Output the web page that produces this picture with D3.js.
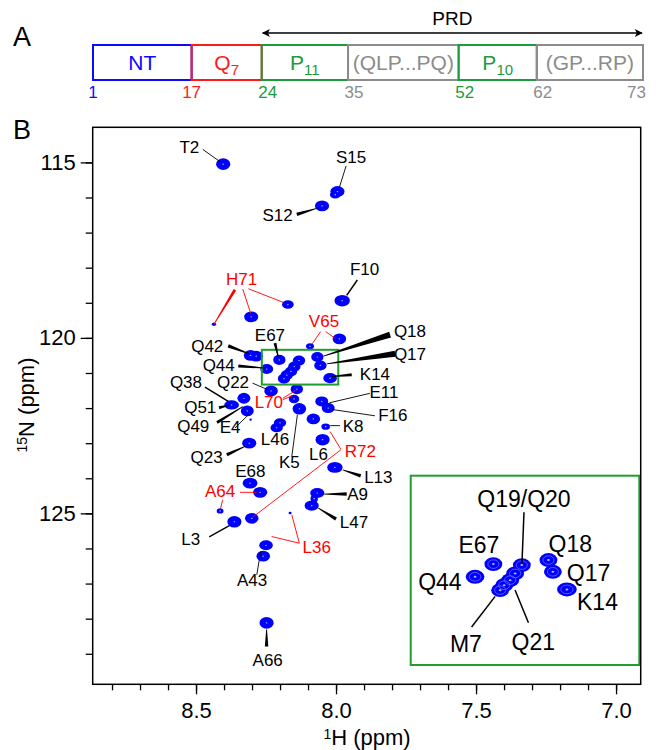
<!DOCTYPE html>
<html>
<head>
<meta charset="utf-8">
<script src="https://cdn.jsdelivr.net/npm/d3@7"></script>
<style>
body { margin: 0; background: #fff; }
text { font-family: "Liberation Sans", Arial, Helvetica, sans-serif; }
</style>
</head>
<body>
<svg width="658" height="750"></svg>
<script>
// ---- panel A : domain map ----
const segNames = ["NT", "Q", "P", "(QLP...PQ)", "P", "(GP...RP)"];
const segSubs = ["", "7", "11", "", "10", ""];
const segKinds = ["nt", "q", "p", "link", "p", "link"];
const segUnits = [98.8, 70.2, 86.5, 110.8, 78.3, 106.4];   // schematic widths
const segEdges = [1, 17, 24, 35, 52, 62, 73];

// ---- panel B : HSQC peaks [1H ppm, 15N ppm, half width 1H, half width 15N] ----
const peaks = [
  [8.403, 115.05, 0.023, 0.15],
  [7.995, 115.83, 0.023, 0.14],
  [8.003, 115.92, 0.017, 0.10],
  [8.050, 116.24, 0.023, 0.14],
  [7.978, 118.94, 0.025, 0.15],
  [8.172, 119.05, 0.019, 0.11],
  [8.303, 119.40, 0.023, 0.14],
  [8.436, 119.61, 0.007, 0.045],
  [8.093, 120.24, 0.013, 0.08],
  [7.988, 120.03, 0.022, 0.14],
  [8.305, 120.50, 0.022, 0.14],
  [8.285, 120.52, 0.022, 0.14],
  [8.2024, 120.627, 0.020, 0.13],
  [8.2475, 120.888, 0.021, 0.13],
  [8.1323, 120.647, 0.020, 0.13],
  [8.1488, 120.818, 0.020, 0.13],
  [8.161, 120.956, 0.020, 0.13],
  [8.1758, 121.059, 0.020, 0.13],
  [8.1857, 121.162, 0.020, 0.13],
  [8.0667, 120.544, 0.020, 0.13],
  [8.0558, 120.785, 0.020, 0.13],
  [8.0213, 121.147, 0.022, 0.13],
  [8.232, 121.51, 0.022, 0.14],
  [8.140, 121.46, 0.020, 0.13],
  [8.150, 121.74, 0.017, 0.11],
  [8.373, 121.91, 0.024, 0.12],
  [8.329, 121.72, 0.021, 0.14],
  [8.317, 122.08, 0.021, 0.14],
  [8.305, 122.33, 0.004, 0.03],
  [8.131, 122.02, 0.022, 0.15],
  [8.051, 121.81, 0.021, 0.13],
  [8.028, 122.00, 0.021, 0.13],
  [8.081, 122.31, 0.022, 0.14],
  [8.037, 122.53, 0.014, 0.08],
  [8.200, 122.42, 0.020, 0.12],
  [8.212, 122.56, 0.020, 0.12],
  [8.048, 122.90, 0.023, 0.15],
  [8.310, 123.00, 0.023, 0.14],
  [8.004, 123.69, 0.025, 0.14],
  [8.307, 124.14, 0.024, 0.14],
  [8.271, 124.40, 0.023, 0.14],
  [8.414, 124.93, 0.011, 0.07],
  [8.067, 124.42, 0.023, 0.13],
  [8.078, 124.58, 0.012, 0.10],
  [8.087, 124.78, 0.023, 0.13],
  [8.363, 125.24, 0.023, 0.15],
  [8.301, 125.14, 0.022, 0.14],
  [8.164, 124.99, 0.005, 0.035],
  [8.250, 125.91, 0.022, 0.13],
  [8.260, 126.22, 0.022, 0.14],
  [8.248, 128.12, 0.023, 0.15]
];

// assignments: [name, label 1H, label 15N, leader lines [fromH, fromN, toH, toN]]
const labels = [
  ["T2", 8.524, 114.72, [[8.476, 114.63, 8.414, 114.98]]],
  ["S15", 7.946, 115.01, [[7.964, 115.10, 7.988, 115.71]]],
  ["S12", 8.209, 116.66, [[8.140, 116.48, 8.069, 116.31]]],
  ["F10", 7.898, 118.21, [[7.924, 118.35, 7.962, 118.79]]],
  ["H71", 8.337, 118.49, [[8.361, 118.63, 8.436, 119.61], [8.333, 118.61, 8.305, 119.30], [8.313, 118.60, 8.188, 118.99]]],
  ["V65", 8.043, 119.68, [[8.055, 119.82, 8.085, 120.17], [8.037, 119.82, 8.004, 120.01]]],
  ["E67", 8.236, 120.08, [[8.218, 120.15, 8.206, 120.56]]],
  ["Q42", 8.460, 120.39, [[8.385, 120.23, 8.307, 120.46]]],
  ["Q44", 8.419, 120.93, [[8.349, 120.80, 8.255, 120.86]]],
  ["Q18", 7.736, 119.97, [[7.807, 119.91, 8.045, 120.52]]],
  ["Q17", 7.736, 120.63, [[7.789, 120.45, 8.033, 120.74]]],
  ["K14", 7.861, 121.19, [[7.944, 121.05, 8.015, 121.10]]],
  ["Q22", 8.368, 121.43, [[8.298, 121.29, 8.248, 121.46]]],
  ["L70", 8.240, 122.00, [[8.190, 121.76, 8.153, 121.64], [8.190, 121.72, 8.140, 121.48]]],
  ["Q38", 8.536, 121.43, [[8.468, 121.40, 8.385, 121.81]]],
  ["Q51", 8.485, 122.13, [[8.418, 121.99, 8.379, 121.91]]],
  ["Q49", 8.510, 122.67, [[8.425, 122.41, 8.333, 121.96]]],
  ["E4", 8.378, 122.71, [[8.361, 122.57, 8.313, 122.19]]],
  ["E11", 7.829, 121.72, [[7.879, 121.58, 8.024, 121.85]]],
  ["F16", 7.797, 122.38, [[7.861, 122.22, 8.014, 122.04]]],
  ["K8", 7.939, 122.67, [[7.986, 122.50, 8.021, 122.50]]],
  ["L46", 8.218, 123.05, []],
  ["K5", 8.167, 123.71, [[8.158, 123.38, 8.138, 122.19]]],
  ["L6", 8.063, 123.47, []],
  ["R72", 7.913, 123.38, [[7.983, 123.17, 8.021, 122.67], [7.983, 123.19, 8.301, 125.13]]],
  ["L13", 7.849, 124.14, [[7.912, 123.93, 7.976, 123.76]]],
  ["Q23", 8.462, 123.57, [[8.390, 123.33, 8.325, 123.09]]],
  ["E68", 8.306, 123.95, []],
  ["A64", 8.414, 124.52, [[8.343, 124.40, 8.283, 124.40], [8.405, 124.61, 8.412, 124.85]]],
  ["A9", 7.923, 124.61, [[7.962, 124.45, 8.043, 124.45]]],
  ["L47", 7.936, 125.42, [[8.000, 125.16, 8.063, 124.85]]],
  ["L3", 8.519, 125.91, [[8.453, 125.67, 8.381, 125.35]]],
  ["L36", 8.069, 126.13, [[8.131, 125.85, 8.158, 125.04], [8.131, 125.85, 8.230, 125.66]]],
  ["A43", 8.300, 127.08, [[8.283, 126.75, 8.269, 126.08]]],
  ["A66", 8.244, 129.36, [[8.248, 128.79, 8.248, 128.31]]]
];
const redNames = ["H71", "V65", "L70", "R72", "A64", "L36"];

// zoomed region (green box) and its labels
const boxH = [8.265, 7.992];
const boxN = [120.34, 121.33];
const insetH = [8.406, 7.843];
const insetN = [118.81, 122.70];
const insetLabels = [
  ["Q19/Q20", 8.127, 119.46, [[8.127, 119.56, 8.132, 120.62]]],
  ["E67", 8.238, 120.39, []],
  ["Q18", 8.013, 120.37, []],
  ["Q44", 8.334, 121.16, []],
  ["Q17", 7.968, 120.98, []],
  ["K14", 7.946, 121.57, []],
  ["M7", 8.270, 122.43, [[8.256, 121.92, 8.198, 121.29]]],
  ["Q21", 8.104, 122.40, [[8.116, 121.83, 8.149, 121.16]]]
];

const xMajor = [8.5, 8.0, 7.5, 7.0];
const xMinor = d3.range(8.8, 6.95, -0.1).map(d => +d.toFixed(1));
const yMajor = [115, 120, 125];
const yMinor = d3.range(115, 130, 1);

// ---- styles ----
const kindColor = {nt: "#0a0aff", q: "#ff1a1a", p: "#1c9a3c", link: "#8c8c8c"};
const green = "#1f9e2c";
const blue = "#0000ff";
const red = "#ff0000";
const wedgeW = {S12: 3.5, E67: 3, Q42: 3.5, Q44: 3, Q18: 6, Q17: 6, K14: 3, Q51: 3, Q49: 3,
                L13: 3.5, Q23: 3.5, A9: 3.5, L47: 3.5, A66: 3.5, H71: 3};
const midW = {F10: 1.5, Q38: 1.5, L3: 1.3};
const grow = 1.1;

const svg = d3.select("svg");

// ---------------- panel A ----------------
svg.append("text").attr("x", 13).attr("y", 46).attr("font-size", 27).text("A");

const cum = [0];
segUnits.forEach(u => cum.push(cum[cum.length - 1] + u));
const xa = d3.scaleLinear().domain([0, cum[cum.length - 1]]).range([93, 643]);
const boxTop = 45, boxH_px = 35;

const segs = svg.append("g");
segNames.forEach((name, i) => {
  const c = kindColor[segKinds[i]];
  segs.append("rect")
    .attr("x", xa(cum[i])).attr("y", boxTop)
    .attr("width", xa(cum[i + 1]) - xa(cum[i])).attr("height", boxH_px)
    .attr("fill", "none").attr("stroke", c).attr("stroke-width", 2);
  const t = segs.append("text")
    .attr("x", (xa(cum[i]) + xa(cum[i + 1])) / 2).attr("y", boxTop + 25)
    .attr("text-anchor", "middle").attr("font-size", 21).attr("fill", c);
  t.append("tspan").text(name);
  if (segSubs[i]) t.append("tspan").attr("font-size", 15).attr("dy", 5).text(segSubs[i]);
});
segEdges.forEach((n, i) => {
  const k = segKinds[Math.min(i, segKinds.length - 1)];
  let anchor = "middle", xx = xa(cum[i]);
  if (i === segEdges.length - 1) { anchor = "end"; xx += 3; }
  else if (i > 1) xx += 6;
  svg.append("text").attr("x", xx).attr("y", 98)
    .attr("text-anchor", anchor).attr("font-size", 17)
    .attr("fill", i === segEdges.length - 1 ? kindColor.link : kindColor[k]).text(n);
});

// PRD arrow
const defs = svg.append("defs");
defs.append("marker").attr("id", "ah").attr("viewBox", "0 0 10 10")
  .attr("refX", 9).attr("refY", 5).attr("markerWidth", 12).attr("markerHeight", 8)
  .attr("markerUnits", "userSpaceOnUse").attr("orient", "auto-start-reverse")
  .append("path").attr("d", "M0,0 L10,5 L0,10 L2.5,5 Z").attr("fill", "#000");
svg.append("line").attr("x1", xa(cum[2]) + 1).attr("x2", xa(cum[6]) - 1)
  .attr("y1", 33).attr("y2", 33).attr("stroke", "#000").attr("stroke-width", 1.5)
  .attr("marker-start", "url(#ah)").attr("marker-end", "url(#ah)");
svg.append("text").attr("x", (xa(cum[2]) + xa(cum[6])) / 2).attr("y", 25)
  .attr("text-anchor", "middle").attr("font-size", 19).text("PRD");

// ---------------- panel B ----------------
svg.append("text").attr("x", 13).attr("y", 139).attr("font-size", 27).text("B");

const x = d3.scaleLinear().domain([8.869, 6.912]).range([92.7, 640.7]);
const y = d3.scaleLinear().domain([114, 129.87]).range([127.3, 684.3]);

function drawPeaks(g, data, xs, ys, rings) {
  const sz = p => {
    const cx = xs(p[0]), cy = ys(p[1]);
    return [cx, cy, Math.abs(xs(p[0] - p[2]) - cx) * grow, Math.abs(ys(p[1] + p[3]) - cy) * grow];
  };
  data.forEach(p => {
    const [cx, cy, rx, ry] = sz(p);
    g.append("ellipse").attr("cx", cx).attr("cy", cy).attr("rx", rx).attr("ry", ry).attr("fill", blue);
  });
  data.forEach(p => {
    const [cx, cy, rx, ry] = sz(p);
    if (rings && rx > 3) {
      g.append("ellipse").attr("cx", cx).attr("cy", cy).attr("rx", rx * 0.62).attr("ry", ry * 0.62)
        .attr("fill", "none").attr("stroke", "#7a7aff").attr("stroke-width", 0.7);
    }
    if (rx > 3) {
      g.append("ellipse").attr("cx", cx).attr("cy", cy).attr("rx", rings ? 1.4 : 0.8).attr("ry", rings ? 1.0 : 0.6)
        .attr("fill", "#fff").attr("opacity", 0.7);
    }
  });
}

function wedge(g, x1, y1, x2, y2, w, col) {
  const dx = x2 - x1, dy = y2 - y1, L = Math.hypot(dx, dy);
  const nx = -dy / L, ny = dx / L, tip = 0.4;
  const pts = [[x1 + nx * w / 2, y1 + ny * w / 2], [x2 + nx * tip, y2 + ny * tip],
               [x2 - nx * tip, y2 - ny * tip], [x1 - nx * w / 2, y1 - ny * w / 2]];
  g.append("path").attr("d", "M" + pts.join("L") + "Z").attr("fill", col);
}

function drawLabels(g, data, xs, ys, size, styled) {
  data.forEach(l => {
    const col = redNames.includes(l[0]) && styled ? red : "#000";
    l[3].forEach((s, i) => {
      const x1 = xs(s[0]), y1 = ys(s[1]), x2 = xs(s[2]), y2 = ys(s[3]);
      if (styled && wedgeW[l[0]] && i === 0) wedge(g, x1, y1, x2, y2, wedgeW[l[0]], col);
      else g.append("line").attr("x1", x1).attr("y1", y1).attr("x2", x2).attr("y2", y2)
        .attr("stroke", col).attr("stroke-width", styled ? (midW[l[0]] || 0.9) : 1.5);
    });
    g.append("text").attr("x", xs(l[1])).attr("y", ys(l[2]))
      .attr("text-anchor", "middle").attr("font-size", size).attr("fill", col).text(l[0]);
  });
}

const plot = svg.append("g");
drawPeaks(plot, peaks, x, y, false);
plot.append("rect")
  .attr("x", x(boxH[0])).attr("y", y(boxN[0]))
  .attr("width", x(boxH[1]) - x(boxH[0])).attr("height", y(boxN[1]) - y(boxN[0]))
  .attr("fill", "none").attr("stroke", green).attr("stroke-width", 2);
drawLabels(plot, labels, x, y, 17, true);

// inset
const ix = d3.scaleLinear().domain(insetH).range([410.7, 639.3]);
const iy = d3.scaleLinear().domain(insetN).range([475.7, 665]);
defs.append("clipPath").attr("id", "insetClip").append("rect")
  .attr("x", 410.7).attr("y", 475.7).attr("width", 228.6).attr("height", 189.3);
const inset = svg.append("g");
inset.append("rect").attr("x", 410.7).attr("y", 475.7).attr("width", 228.6).attr("height", 189.3)
  .attr("fill", "#fff").attr("stroke", green).attr("stroke-width", 2);
const insetPeaks = peaks.filter(p => p[0] <= boxH[0] && p[0] >= boxH[1] && p[1] >= boxN[0] && p[1] <= boxN[1]);
drawPeaks(inset.append("g").attr("clip-path", "url(#insetClip)"), insetPeaks, ix, iy, true);
drawLabels(inset, insetLabels, ix, iy, 23, false);

// frame and axes
svg.append("rect").attr("x", 92.7).attr("y", 127.3).attr("width", 548).attr("height", 557)
  .attr("fill", "none").attr("stroke", "#000").attr("stroke-width", 1.5);

const fmt1 = d3.format(".1f");
const gxMinor = svg.append("g").attr("transform", "translate(0,684.3)")
  .call(d3.axisBottom(x).tickValues(xMinor).tickSize(6).tickFormat(""));
const gx = svg.append("g").attr("transform", "translate(0,684.3)")
  .call(d3.axisBottom(x).tickValues(xMajor).tickSize(10).tickPadding(8).tickFormat(fmt1));
const gyMinor = svg.append("g").attr("transform", "translate(92.7,0)")
  .call(d3.axisLeft(y).tickValues(yMinor).tickSize(7).tickFormat(""));
const gy = svg.append("g").attr("transform", "translate(92.7,0)")
  .call(d3.axisLeft(y).tickValues(yMajor).tickSize(12).tickPadding(5).tickFormat(d3.format("d")));
[gxMinor, gx, gyMinor, gy].forEach(g => {
  g.select(".domain").remove();
  g.selectAll("line").attr("stroke", "#000").attr("stroke-width", 1.3);
  g.selectAll("text").attr("font-size", 22).attr("fill", "#000")
    .attr("font-family", "'Liberation Sans', Arial, sans-serif");
});

const xt = svg.append("text").attr("x", 367).attr("y", 745).attr("text-anchor", "middle").attr("font-size", 22);
xt.append("tspan").attr("font-size", 14).attr("dy", -6).text("1");
xt.append("tspan").attr("dy", 6).text("H (ppm)");

const yt = svg.append("text").attr("transform", "translate(34,405) rotate(-90)")
  .attr("text-anchor", "middle").attr("font-size", 22);
yt.append("tspan").attr("font-size", 14).attr("dy", -7).text("15");
yt.append("tspan").attr("dy", 7).text("N (ppm)");
</script>
</body>
</html>
